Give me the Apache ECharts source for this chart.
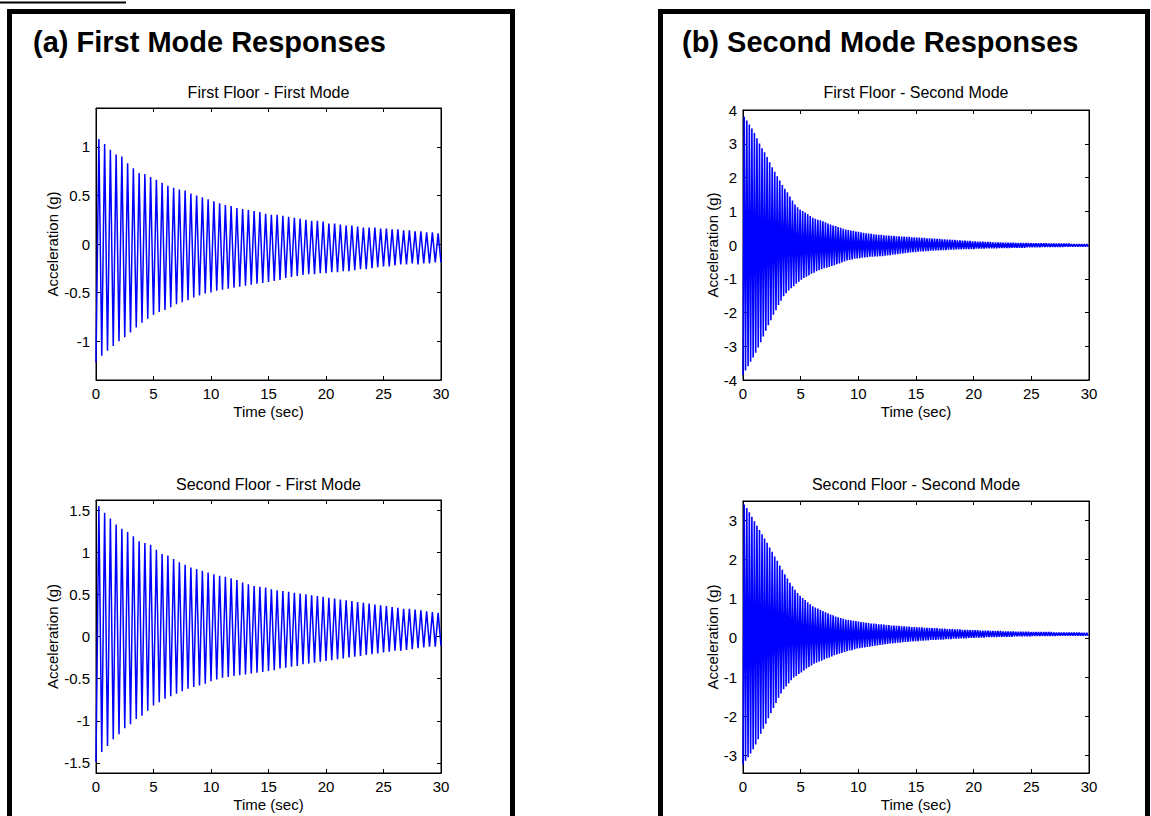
<!DOCTYPE html>
<html>
<head>
<meta charset="utf-8">
<script src="https://cdn.jsdelivr.net/npm/echarts@6/dist/echarts.min.js"></script>
<style>
html,body{margin:0;padding:0;background:#fff;}
#chart{width:1151px;height:816px;}
</style>
</head>
<body>
<div id="chart"></div>
<script>
// ---------- data ----------
// time axis
const timeTicks = [0, 5, 10, 15, 20, 25, 30];
// oscillation periods (s) read from stroke spacing
const periodFirstMode = 0.5;
const periodSecondMode = 0.22;

// First Floor - First Mode: troughs (t = 0, 0.5, ...) and peaks (t = 0.25, 0.75, ...)
const ff1Mode1Troughs = [
 -1.22,-1.15,-1.10,-1.05,-1.00,-0.96,-0.91,-0.86,-0.81,-0.77,
 -0.73,-0.70,-0.68,-0.65,-0.62,-0.60,-0.58,-0.55,-0.53,-0.51,
 -0.50,-0.48,-0.47,-0.46,-0.45,-0.44,-0.43,-0.42,-0.41,-0.40,
 -0.39,-0.38,-0.37,-0.35,-0.34,-0.33,-0.32,-0.31,-0.31,-0.30,
 -0.30,-0.29,-0.29,-0.28,-0.28,-0.27,-0.26,-0.26,-0.25,-0.24,
 -0.23,-0.23,-0.22,-0.21,-0.21,-0.20,-0.21,-0.20,-0.20,-0.19,
 -0.19];
const ff1Mode1Peaks = [
 1.08,1.03,0.97,0.92,0.90,0.83,0.78,0.73,0.72,0.69,
 0.66,0.63,0.60,0.58,0.56,0.55,0.52,0.50,0.48,0.46,
 0.44,0.42,0.40,0.39,0.37,0.36,0.35,0.34,0.33,0.31,
 0.30,0.30,0.29,0.28,0.27,0.26,0.25,0.24,0.24,0.23,
 0.21,0.21,0.20,0.19,0.19,0.18,0.17,0.17,0.17,0.16,
 0.16,0.15,0.15,0.14,0.14,0.13,0.13,0.12,0.12,0.11];

// Second Floor - First Mode
const ff2Mode1Troughs = [
 -1.49,-1.37,-1.30,-1.22,-1.16,-1.09,-1.04,-0.98,-0.94,-0.88,
 -0.82,-0.78,-0.74,-0.71,-0.68,-0.65,-0.62,-0.60,-0.58,-0.56,
 -0.53,-0.51,-0.49,-0.48,-0.47,-0.46,-0.45,-0.44,-0.43,-0.42,
 -0.41,-0.40,-0.38,-0.37,-0.36,-0.35,-0.33,-0.32,-0.31,-0.30,
 -0.29,-0.28,-0.27,-0.26,-0.25,-0.24,-0.23,-0.22,-0.21,-0.20,
 -0.19,-0.18,-0.17,-0.17,-0.16,-0.15,-0.14,-0.13,-0.12,-0.12,
 -0.11];
const ff2Mode1Peaks = [
 1.55,1.47,1.40,1.33,1.28,1.24,1.19,1.13,1.11,1.09,
 1.03,0.98,0.96,0.92,0.88,0.85,0.82,0.80,0.78,0.76,
 0.74,0.72,0.71,0.69,0.67,0.64,0.62,0.60,0.59,0.58,
 0.56,0.55,0.54,0.53,0.52,0.51,0.50,0.49,0.48,0.47,
 0.46,0.45,0.44,0.43,0.42,0.41,0.40,0.39,0.38,0.37,
 0.36,0.35,0.34,0.33,0.33,0.32,0.31,0.30,0.29,0.28];

// First Floor - Second Mode: troughs (t = 0, 0.22, ...) and peaks (t = 0.11, 0.33, ...)
const ff1Mode2Troughs = [
 -3.85,-3.72,-3.59,-3.46,-3.33,-3.19,-3.04,-2.88,-2.71,-2.54,
 -2.38,-2.23,-2.07,-1.93,-1.78,-1.65,-1.52,-1.43,-1.35,-1.28,
 -1.22,-1.15,-1.09,-1.03,-0.98,-0.94,-0.90,-0.85,-0.82,-0.78,
 -0.75,-0.72,-0.69,-0.67,-0.65,-0.62,-0.60,-0.57,-0.55,-0.52,
 -0.49,-0.46,-0.44,-0.43,-0.41,-0.40,-0.39,-0.38,-0.37,-0.36,
 -0.35,-0.35,-0.34,-0.34,-0.33,-0.33,-0.32,-0.31,-0.30,-0.29,
 -0.28,-0.27,-0.26,-0.25,-0.24,-0.23,-0.22,-0.21,-0.21,-0.20,
 -0.19,-0.19,-0.18,-0.18,-0.17,-0.17,-0.16,-0.16,-0.15,-0.15,
 -0.15,-0.14,-0.14,-0.14,-0.13,-0.13,-0.13,-0.12,-0.12,-0.12,
 -0.12,-0.12,-0.11,-0.11,-0.11,-0.11,-0.10,-0.10,-0.10,-0.10,
 -0.10,-0.09,-0.09,-0.09,-0.09,-0.09,-0.08,-0.08,-0.08,-0.08,
 -0.08,-0.08,-0.07,-0.07,-0.07,-0.07,-0.07,-0.07,-0.06,-0.06,
 -0.06,-0.06,-0.06,-0.06,-0.06,-0.06,-0.06,-0.05,-0.05,-0.05,
 -0.05,-0.05,-0.05,-0.05,-0.05,-0.05,-0.05];
const ff1Mode2Peaks = [
 3.80,3.69,3.57,3.45,3.32,3.16,3.01,2.87,2.75,2.61,
 2.45,2.30,2.17,2.04,1.91,1.78,1.67,1.56,1.44,1.32,
 1.20,1.12,1.05,1.01,0.96,0.92,0.86,0.81,0.78,0.75,
 0.73,0.70,0.67,0.64,0.61,0.58,0.56,0.53,0.51,0.48,
 0.46,0.44,0.43,0.42,0.40,0.39,0.38,0.36,0.35,0.34,
 0.33,0.32,0.31,0.30,0.30,0.29,0.28,0.28,0.27,0.27,
 0.26,0.26,0.25,0.25,0.24,0.24,0.23,0.23,0.22,0.22,
 0.21,0.21,0.20,0.20,0.19,0.19,0.18,0.18,0.17,0.17,
 0.16,0.16,0.15,0.15,0.14,0.14,0.13,0.13,0.12,0.12,
 0.11,0.11,0.10,0.10,0.10,0.09,0.09,0.09,0.08,0.08,
 0.08,0.08,0.07,0.07,0.07,0.07,0.07,0.06,0.06,0.06,
 0.06,0.06,0.06,0.05,0.05,0.05,0.05,0.05,0.05,0.05,
 0.04,0.04,0.04,0.04,0.04,0.04,0.04,0.04,0.04,0.03,
 0.03,0.03,0.03,0.03,0.03,0.03];

// Second Floor - Second Mode
const ff2Mode2Troughs = [
 -3.23,-3.14,-3.05,-2.95,-2.84,-2.72,-2.59,-2.45,-2.32,-2.19,
 -2.05,-1.92,-1.79,-1.66,-1.53,-1.42,-1.31,-1.24,-1.16,-1.08,
 -1.01,-0.97,-0.92,-0.88,-0.83,-0.78,-0.74,-0.70,-0.66,-0.63,
 -0.60,-0.58,-0.55,-0.52,-0.50,-0.47,-0.44,-0.42,-0.40,-0.38,
 -0.36,-0.34,-0.32,-0.31,-0.29,-0.27,-0.26,-0.25,-0.24,-0.23,
 -0.22,-0.21,-0.20,-0.19,-0.18,-0.17,-0.16,-0.15,-0.14,-0.14,
 -0.13,-0.12,-0.12,-0.11,-0.10,-0.10,-0.09,-0.09,-0.08,-0.08,
 -0.07,-0.07,-0.06,-0.06,-0.05,-0.05,-0.05,-0.04,-0.04,-0.04,
 -0.03,-0.03,-0.03,-0.02,-0.02,-0.02,-0.01,-0.01,-0.01,0.00,
 0.00,0.00,0.01,0.01,0.01,0.01,0.02,0.02,0.02,0.02,
 0.02,0.03,0.03,0.03,0.03,0.03,0.03,0.04,0.04,0.04,
 0.04,0.04,0.04,0.04,0.05,0.05,0.05,0.05,0.05,0.05,
 0.05,0.05,0.05,0.05,0.06,0.06,0.06,0.06,0.06,0.06,
 0.06,0.06,0.06,0.06,0.06,0.06,0.06];
const ff2Mode2Peaks = [
 3.41,3.32,3.21,3.10,2.98,2.87,2.76,2.65,2.54,2.43,
 2.31,2.20,2.08,1.97,1.85,1.74,1.63,1.52,1.41,1.32,
 1.23,1.15,1.08,1.02,0.97,0.91,0.86,0.81,0.78,0.75,
 0.72,0.69,0.66,0.63,0.60,0.58,0.55,0.53,0.51,0.49,
 0.47,0.46,0.45,0.44,0.43,0.42,0.41,0.40,0.39,0.38,
 0.37,0.37,0.36,0.35,0.35,0.34,0.33,0.33,0.32,0.32,
 0.31,0.31,0.30,0.30,0.29,0.29,0.28,0.28,0.27,0.27,
 0.27,0.26,0.26,0.26,0.25,0.25,0.25,0.24,0.24,0.24,
 0.23,0.23,0.23,0.22,0.22,0.22,0.21,0.21,0.21,0.20,
 0.20,0.20,0.20,0.19,0.19,0.19,0.19,0.18,0.18,0.18,
 0.18,0.18,0.17,0.17,0.17,0.17,0.17,0.16,0.16,0.16,
 0.16,0.16,0.16,0.15,0.15,0.15,0.15,0.15,0.15,0.15,
 0.15,0.15,0.14,0.14,0.14,0.14,0.14,0.14,0.14,0.14,
 0.14,0.14,0.14,0.13,0.13,0.13];

// y tick labels per subplot
const yTicksFF1Mode1 = [-1, -0.5, 0, 0.5, 1];
const yTicksFF2Mode1 = [-1.5, -1, -0.5, 0, 0.5, 1, 1.5];
const yTicksFF1Mode2 = [-4, -3, -2, -1, 0, 1, 2, 3, 4];
const yTicksFF2Mode2 = [-3, -2, -1, 0, 1, 2, 3];
// y ranges
const yRangeFF1Mode1 = [-1.4, 1.4];
const yRangeFF2Mode1 = [-1.62, 1.62];
const yRangeFF1Mode2 = [-4, 4];
const yRangeFF2Mode2 = [-3.45, 3.5];

const panelTitles = ['(a) First Mode Responses', '(b) Second Mode Responses'];
const subplotTitles = ['First Floor - First Mode', 'Second Floor - First Mode',
                       'First Floor - Second Mode', 'Second Floor - Second Mode'];
const xName = 'Time (sec)';
const yName = 'Acceleration (g)';

// ---------- build ----------
function zigzag(troughs, peaks, period) {
  const pts = [];
  for (let i = 0; i < troughs.length; i++) {
    pts.push([i * period, troughs[i]]);
    if (i < peaks.length) pts.push([i * period + period / 2, peaks[i]]);
  }
  return pts;
}

const FONT = '"Liberation Sans", Arial, Helvetica, sans-serif';

const plots = [
  { grid: {left: 96, top: 108, width: 345, height: 272}, range: yRangeFF1Mode1, ticks: yTicksFF1Mode1,
    data: zigzag(ff1Mode1Troughs, ff1Mode1Peaks, periodFirstMode), title: subplotTitles[0], titleY: 92, yGap: 32, lw: 1.5 },
  { grid: {left: 96, top: 500, width: 345, height: 273}, range: yRangeFF2Mode1, ticks: yTicksFF2Mode1,
    data: zigzag(ff2Mode1Troughs, ff2Mode1Peaks, periodFirstMode), title: subplotTitles[1], titleY: 484, yGap: 32, lw: 1.5 },
  { grid: {left: 743, top: 110, width: 346, height: 270}, range: yRangeFF1Mode2, ticks: yTicksFF1Mode2,
    data: zigzag(ff1Mode2Troughs, ff1Mode2Peaks, periodSecondMode), title: subplotTitles[2], titleY: 92, yGap: 16, lw: 1.6 },
  { grid: {left: 743, top: 501, width: 346, height: 272}, range: yRangeFF2Mode2, ticks: yTicksFF2Mode2,
    data: zigzag(ff2Mode2Troughs, ff2Mode2Peaks, periodSecondMode), title: subplotTitles[3], titleY: 484, yGap: 16, lw: 1.6 }
];

const grids = [], xAxes = [], yAxes = [], series = [], graphics = [];
const axisLine = {show: true, onZero: false, lineStyle: {color: '#000', width: 1}};
const tickStyle = {color: '#000', width: 1};
const labelStyle = {color: '#000', fontSize: 15, fontFamily: FONT};

plots.forEach((p, g) => {
  grids.push(Object.assign({show: true, borderColor: '#000', borderWidth: 1, backgroundColor: '#fff'}, p.grid));
  // bottom x
  xAxes.push({gridIndex: g, type: 'value', position: 'bottom', min: 0, max: 30,
    name: xName, nameLocation: 'middle', nameGap: 24,
    nameTextStyle: {color: '#000', fontSize: 15, fontFamily: FONT},
    axisLine, splitLine: {show: false},
    axisTick: {show: true, inside: true, length: 4, lineStyle: tickStyle, customValues: timeTicks},
    axisLabel: Object.assign({margin: 6, customValues: timeTicks}, labelStyle)});
  // top x (ticks only)
  xAxes.push({gridIndex: g, type: 'value', position: 'top', min: 0, max: 30,
    axisLine, splitLine: {show: false},
    axisTick: {show: true, inside: true, length: 4, lineStyle: tickStyle, customValues: timeTicks},
    axisLabel: {show: false}});
  // left y
  yAxes.push({gridIndex: g, type: 'value', position: 'left', min: p.range[0], max: p.range[1],
    name: yName, nameLocation: 'middle', nameGap: p.yGap, nameRotate: 90,
    nameTextStyle: {color: '#000', fontSize: 15, fontFamily: FONT},
    axisLine, splitLine: {show: false},
    axisTick: {show: true, inside: true, length: 4, lineStyle: tickStyle, customValues: p.ticks},
    axisLabel: Object.assign({margin: 6, customValues: p.ticks}, labelStyle)});
  // right y (ticks only)
  yAxes.push({gridIndex: g, type: 'value', position: 'right', min: p.range[0], max: p.range[1],
    axisLine, splitLine: {show: false},
    axisTick: {show: true, inside: true, length: 4, lineStyle: tickStyle, customValues: p.ticks},
    axisLabel: {show: false}});
  series.push({type: 'line', name: p.title, xAxisIndex: g * 2, yAxisIndex: g * 2,
    data: p.data, symbol: 'none', showSymbol: false, clip: true, silent: true,
    sampling: null, lineStyle: {color: '#0000ff', width: p.lw}, animation: false});
  graphics.push({type: 'text', x: p.grid.left + p.grid.width / 2, y: p.titleY,
    style: {text: p.title, fill: '#000', font: '16px ' + FONT, align: 'center', verticalAlign: 'middle'}});
});

// panel frames & titles
graphics.push({type: 'rect', shape: {x: 9.5, y: 11.5, width: 503, height: 900},
  style: {fill: 'none', stroke: '#000', lineWidth: 5}, z: 10});
graphics.push({type: 'rect', shape: {x: 660.5, y: 11.5, width: 487, height: 900},
  style: {fill: 'none', stroke: '#000', lineWidth: 5}, z: 10});
graphics.push({type: 'line', shape: {x1: 0, y1: 2.5, x2: 126, y2: 2.5},
  style: {stroke: '#000', lineWidth: 2}});
graphics.push({type: 'text', x: 33, y: 42,
  style: {text: panelTitles[0], fill: '#000', font: 'bold 29px ' + FONT, align: 'left', verticalAlign: 'middle'}});
graphics.push({type: 'text', x: 682, y: 42,
  style: {text: panelTitles[1], fill: '#000', font: 'bold 29px ' + FONT, align: 'left', verticalAlign: 'middle'}});

const chart = echarts.init(document.getElementById('chart'), null, {renderer: 'svg', width: 1151, height: 816});
chart.setOption({
  backgroundColor: '#fff',
  animation: false,
  grid: grids,
  xAxis: xAxes,
  yAxis: yAxes,
  series: series,
  graphic: graphics
});
</script>
</body>
</html>
